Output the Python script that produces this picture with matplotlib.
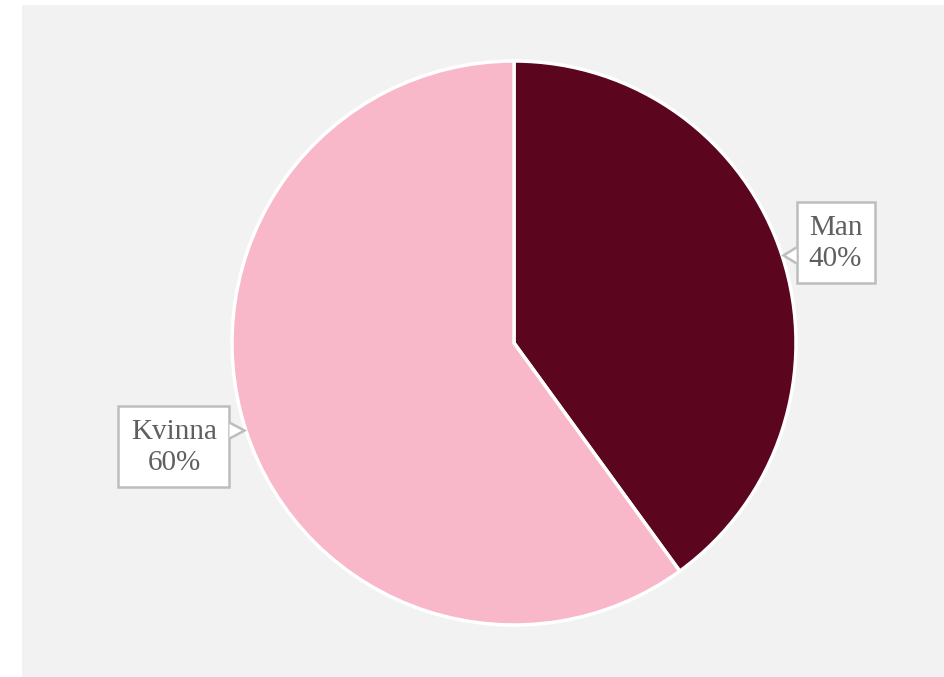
import numpy as np
import matplotlib.pyplot as plt
from matplotlib.patches import Rectangle, Polygon

labels = ["Man", "Kvinna"]
shares = [40, 60]
colors = ["#5b051e", "#f9b7ca"]

W, H = 944, 677
fig = plt.figure(figsize=(W / 100, H / 100), dpi=100, facecolor="white")

# light grey chart area, kept behind the axes
fig.patches.append(Rectangle((22 / W, 0), 1 - 22 / W, 1 - 5 / H,
                             transform=fig.transFigure, fc="#f2f2f2", ec="none", zorder=-1))

cx, cy, r = 514, 343, 282  # pie centre/radius in pixels (from top-left)
ax = fig.add_axes([(cx - r) / W, (H - cy - r) / H, 2 * r / W, 2 * r / H])
ax.set_facecolor("none")

wedges, _ = ax.pie(shares, colors=colors, startangle=90, counterclock=False,
                   wedgeprops=dict(edgecolor="white", linewidth=2.5))
ax.set_xlim(-1, 1)
ax.set_ylim(-1, 1)
ax.set_aspect("equal")
ax.axis("off")

px = 1 / r  # one pixel in data units


def callout(tip, right, text, w, h, shift, gap):
    """Boxed label with a small pointer towards the wedge."""
    tx, ty = tip
    bw, bh = w * px, h * px
    if right:
        x0 = tx + gap * px
        base = x0
    else:
        x0 = tx - gap * px - bw
        base = x0 + bw
    ymid = ty + shift * px
    y0 = ymid - bh / 2
    box = Rectangle((x0, y0), bw, bh, fc="white", ec="#bdbdbd", lw=1.8,
                    clip_on=False, zorder=5)
    ax.add_patch(box)
    hw = 8 * px
    tri = Polygon([(base, ty + hw), (tx, ty), (base, ty - hw)], closed=False,
                  fc="white", ec="#bdbdbd", lw=1.8, clip_on=False, zorder=6)
    ax.add_patch(tri)
    ax.text(x0 + bw / 2, ymid - 1 * px, text, ha="center", va="center",
            family="Liberation Serif", fontsize=21, color="#5f5f5f",
            linespacing=1.25, zorder=7)


# box width, height, vertical offset of box centre from pointer, gap (pixels)
box_sizes = {"Man": (78, 81, 13, 13), "Kvinna": (111, 81, -16, 15)}

for wdg, lab, val in zip(wedges, labels, shares):
    mid = np.deg2rad((wdg.theta1 + wdg.theta2) / 2)
    tip = (1.005 * np.cos(mid), 1.005 * np.sin(mid))
    w, h, shift, gap = box_sizes[lab]
    callout(tip, np.cos(mid) > 0, f"{lab}\n{val}%", w, h, shift, gap)

fig.savefig("out.png", dpi=100, facecolor=fig.get_facecolor())
